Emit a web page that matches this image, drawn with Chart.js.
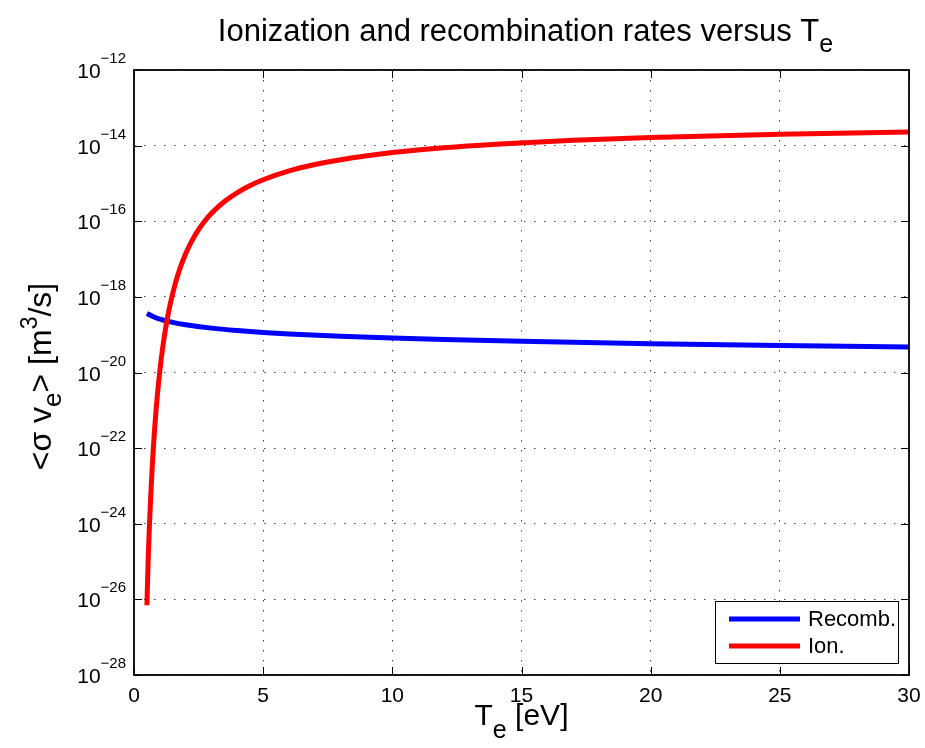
<!DOCTYPE html>
<html><head><meta charset="utf-8">
<script src="https://cdn.jsdelivr.net/npm/chart.js@4/dist/chart.umd.min.js"></script>
<style>html,body{margin:0;padding:0;background:#fff}canvas{display:block}</style>
</head><body>
<canvas id="c" width="925" height="748"></canvas>
<script>
// ---- data ----
const seriesNames = ['Recomb.', 'Ion.'];
const teRecomb = [0.5, 0.75, 1, 1.5, 2, 3, 4, 5, 6, 8, 10, 12, 15, 20, 25, 30];
const recombRate = [3.65e-19, 2.98e-19, 2.58e-19, 2.11e-19, 1.83e-19, 1.49e-19, 1.29e-19, 1.15e-19, 1.05e-19, 9.13e-20, 8.16e-20, 7.45e-20, 6.67e-20, 5.77e-20, 5.16e-20, 4.71e-20];
const teIon = [0.5, 0.55, 0.6, 0.65, 0.7, 0.75, 0.8, 0.85, 0.9, 0.95, 1.0, 1.1, 1.2, 1.3, 1.4, 1.6, 1.8, 2.0, 2.25, 2.5, 2.75, 3, 3.5, 4, 4.5, 5, 6, 7, 8, 10, 12, 14, 17, 20, 25, 30];
const ionRate = [7.0e-27, 1.21e-25, 9.95e-25, 5.92e-24, 2.74e-23, 1.04e-22, 3.32e-22, 9.28e-22, 2.32e-21, 5.28e-21, 1.11e-20, 4.00e-20, 1.17e-19, 2.90e-19, 6.35e-19, 2.28e-18, 6.21e-18, 1.39e-17, 3.13e-17, 6.02e-17, 1.03e-16, 1.62e-16, 3.33e-16, 5.75e-16, 8.85e-16, 1.25e-15, 2.14e-15, 3.16e-15, 4.25e-15, 6.54e-15, 8.79e-15, 1.09e-14, 1.39e-14, 1.64e-14, 2.01e-14, 2.30e-14];
const xTickValues = [0, 5, 10, 15, 20, 25, 30];
const yTickExponents = [-28, -26, -24, -22, -20, -18, -16, -14, -12];
const titleMain = 'Ionization and recombination rates versus T';
const titleSub = 'e';
const xTitleParts = ['T', 'e', ' [eV]'];
const yTitleParts = ['<σ v', 'e', '> [m', '3', '/s]'];

const FONT = "'Liberation Sans', Arial, Helvetica, sans-serif";

function richText(ctx, parts, x, y, align) {
  let total = 0;
  const w = parts.map(p => { ctx.font = p.size + 'px ' + FONT; const m = ctx.measureText(p.t).width; total += m; return m; });
  let cx = align === 'center' ? x - total / 2 : (align === 'right' ? x - total : x);
  ctx.textAlign = 'left';
  ctx.textBaseline = 'alphabetic';
  parts.forEach((p, i) => {
    ctx.font = p.size + 'px ' + FONT;
    ctx.fillText(p.t, cx, y + (p.dy || 0));
    cx += w[i];
  });
}

const decor = {
  id: 'decor',
  afterDraw(chart) {
    const ctx = chart.ctx;
    const a = chart.chartArea;
    const xs = chart.scales.x, ys = chart.scales.y;
    ctx.save();
    ctx.fillStyle = '#000';
    ctx.strokeStyle = '#000';
    // inward tick marks
    ctx.lineWidth = 1;
    ys.ticks.forEach(t => {
      const y = Math.round(ys.getPixelForValue(t.value)) + 0.5;
      ctx.beginPath();
      ctx.moveTo(a.left, y); ctx.lineTo(a.left + 8, y);
      ctx.moveTo(a.right, y); ctx.lineTo(a.right - 8, y);
      ctx.stroke();
    });
    xs.ticks.forEach(t => {
      const x = Math.round(xs.getPixelForValue(t.value)) + 0.5;
      ctx.beginPath();
      ctx.moveTo(x, a.bottom); ctx.lineTo(x, a.bottom - 8);
      ctx.moveTo(x, a.top); ctx.lineTo(x, a.top + 8);
      ctx.stroke();
    });
    // box
    ctx.lineWidth = 1.8;
    ctx.strokeRect(a.left, a.top, a.right - a.left, a.bottom - a.top);
    // y tick labels 10^n
    ys.ticks.forEach(t => {
      const y = ys.getPixelForValue(t.value);
      const e = Math.round(Math.log10(t.value));
      richText(ctx, [{t: '10', size: 21}, {t: '\u2212' + Math.abs(e), size: 15, dy: -15}], a.left - 8, y + 8, 'right');
    });
    // title
    const cxm = (a.left + a.right) / 2;
    richText(ctx, [{t: titleMain, size: 31}, {t: titleSub, size: 25, dy: 11}], cxm + 4, 41, 'center');
    // x title
    richText(ctx, [{t: xTitleParts[0], size: 30}, {t: xTitleParts[1], size: 25, dy: 13}, {t: xTitleParts[2], size: 30}], cxm, 725, 'center');
    // y title
    ctx.save();
    ctx.translate(51, (a.top + a.bottom) / 2 + 4);
    ctx.rotate(-Math.PI / 2);
    richText(ctx, [{t: yTitleParts[0], size: 32}, {t: yTitleParts[1], size: 26, dy: 10}, {t: yTitleParts[2], size: 32}, {t: yTitleParts[3], size: 23, dy: -14}, {t: yTitleParts[4], size: 32}], 0, 0, 'center');
    ctx.restore();
    // legend
    const lx = 715.5, ly = 601.5, lw = 183, lh = 62;
    ctx.fillStyle = '#fff';
    ctx.fillRect(lx, ly, lw, lh);
    ctx.lineWidth = 1;
    ctx.strokeStyle = '#000';
    ctx.strokeRect(lx, ly, lw, lh);
    const items = [chart.data.datasets[1], chart.data.datasets[0]];
    items.forEach((ds, i) => {
      const y = 619 + i * 27;
      ctx.strokeStyle = ds.borderColor;
      ctx.lineWidth = 5;
      ctx.beginPath(); ctx.moveTo(729, y); ctx.lineTo(800, y); ctx.stroke();
      ctx.fillStyle = '#000';
      ctx.font = '22px ' + FONT;
      ctx.textAlign = 'left';
      ctx.textBaseline = 'middle';
      ctx.fillText(ds.label, 808, y + 1);
    });
    ctx.restore();
  }
};

const ionData = teIon.map((t, i) => ({x: t, y: ionRate[i]}));
const recData = teRecomb.map((t, i) => ({x: t, y: recombRate[i]}));

new Chart(document.getElementById('c'), {
  type: 'line',
  data: {
    datasets: [
      {label: seriesNames[1], data: ionData, borderColor: '#ff0000', borderWidth: 5, pointRadius: 0, fill: false, cubicInterpolationMode: 'monotone', borderCapStyle: 'butt'},
      {label: seriesNames[0], data: recData, borderColor: '#0000ff', borderWidth: 5, pointRadius: 0, fill: false, cubicInterpolationMode: 'monotone', borderCapStyle: 'butt'}
    ]
  },
  options: {
    responsive: false,
    animation: false,
    devicePixelRatio: 1,
    layout: {padding: {top: 70, right: 16, left: 0, bottom: 0}},
    plugins: {legend: {display: false}, title: {display: false}, tooltip: {enabled: false}},
    scales: {
      x: {
        type: 'linear', min: 0, max: 30,
        afterBuildTicks: s => { s.ticks = xTickValues.map(v => ({value: v})); },
        afterFit: s => { s.height = 73; s.paddingRight = 0; s.paddingLeft = 0; },
        ticks: {font: {size: 21, family: FONT}, color: '#000', padding: 9, maxRotation: 0},
        grid: {color: 'rgba(0,0,0,0.75)', lineWidth: 1, drawTicks: false, tickLength: 0},
        border: {display: false, dash: [1.5, 8.5]}
      },
      y: {
        type: 'logarithmic', min: 1e-28, max: 1e-12,
        afterBuildTicks: s => { s.ticks = yTickExponents.map(e => ({value: Math.pow(10, e)})); },
        afterFit: s => { s.width = 134; s.paddingTop = 0; s.paddingBottom = 0; },
        ticks: {display: false},
        grid: {color: 'rgba(0,0,0,0.75)', lineWidth: 1, drawTicks: false, tickLength: 0},
        border: {display: false, dash: [1.5, 8.5]}
      }
    }
  },
  plugins: [decor]
});
</script>
</body></html>
